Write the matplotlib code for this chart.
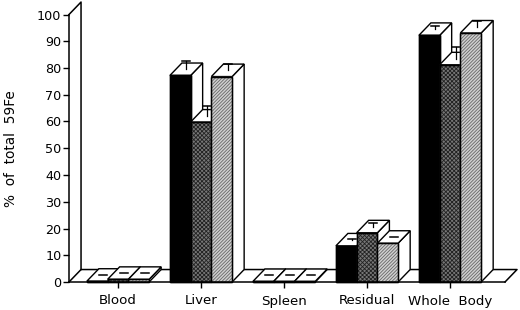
"""Pseudo-3D grouped bar chart of 59Fe distribution."""
import matplotlib
matplotlib.use("Agg")
import matplotlib.pyplot as plt
from matplotlib.patches import Polygon

categories = ["Blood", "Liver", "Spleen", "Residual", "Whole  Body"]
group_positions = [0, 4, 8, 12, 16]

# one list per series
black_values = [0.3, 77.2, 0.2, 13.5, 92.2]
gray_values = [1.0, 59.8, 0.2, 18.4, 81.2]
light_values = [1.0, 76.8, 0.2, 14.5, 93.1]

black_errors = [0.1, 3.0, 0.1, 0.1, 1.2]
gray_errors = [0.1, 3.6, 0.1, 1.2, 4.5]
light_errors = [0.1, 2.5, 0.1, 0.1, 2.0]

y_ticks = list(range(0, 101, 10))

# depth of the fake 3D projection, in data units
DX = 0.58
DY = 4.66

plt.rcParams["font.family"] = "DejaVu Sans"
plt.rcParams["hatch.linewidth"] = 0.6

fig = plt.figure(figsize=(5.2, 3.1), dpi=100)
ax = fig.add_axes([69 / 520, 28 / 310, 436 / 520, 267.5 / 310])
ax.set_xlim(-2.36, 18.65)
ax.set_ylim(0, 100)


def poly(points, z, face="white", hatch=None, edge="black"):
    ax.add_patch(Polygon(points, closed=True, facecolor=face, edgecolor=edge,
                         hatch=hatch, linewidth=1.0, zorder=z, clip_on=False))


def draw_bar(left, value, error, z, face, hatch, edge):
    right = left + 1
    # right side and top face first, front goes over them
    poly([(right, 0), (right + DX, DY), (right + DX, value + DY), (right, value)], z)
    poly([(left, value), (left + DX, value + DY), (right + DX, value + DY), (right, value)], z)
    poly([(left, 0), (right, 0), (right, value), (left, value)], z + 0.1,
         face=face, hatch=hatch, edge=edge)
    # outline again in black, the patch edge takes the hatch colour
    poly([(left, 0), (right, 0), (right, value), (left, value)], z + 0.15, face="none")
    # error bar stands on the middle of the top face
    cx = left + 0.5 + DX / 2
    cy = value + DY / 2
    ax.plot([cx, cx], [cy, cy + error], color="black", lw=0.9, zorder=z + 0.2, clip_on=False)
    ax.plot([cx - 0.2, cx + 0.2], [cy + error, cy + error], color="black", lw=1.1,
            zorder=z + 0.2, clip_on=False)


# back wall and floor
ax.plot([-2.36, -2.36 + DX, -2.36 + DX], [100, 100 + DY, DY], color="black", lw=1.1,
        zorder=1, clip_on=False)
ax.plot([-2.36, -2.36 + DX, 18.65 + DX, 18.65], [0, DY, DY, 0], color="black", lw=1.1,
        zorder=1, clip_on=False)

series = [
    (black_values, black_errors, "black", None, "black"),
    (gray_values, gray_errors, "#777777", "xxxxxxxx", "#222222"),
    (light_values, light_errors, "#d0d0d0", "//////////", "#666666"),
]

z = 2
for g, pos in enumerate(group_positions):
    for s, (values, errors, face, hatch, edge) in enumerate(series):
        draw_bar(pos - 1.5 + s, values[g], errors[g], z, face, hatch, edge)
        z += 1

ax.spines["top"].set_visible(False)
ax.spines["right"].set_visible(False)
ax.spines["left"].set_linewidth(1.1)
ax.spines["bottom"].set_linewidth(1.1)
ax.spines["left"].set_zorder(100)
ax.spines["bottom"].set_zorder(100)

ax.set_yticks(y_ticks)
ax.set_xticks(group_positions)
ax.set_xticklabels(categories, fontsize=9.6)
ax.tick_params(axis="y", length=4, width=1.0, labelsize=9.2, pad=1.5)
ax.tick_params(axis="x", length=4, width=1.0, pad=5)
ax.set_ylabel("%  of  total  59Fe", fontsize=9.8, labelpad=14)

fig.savefig("out.png", dpi=100)
plt.close(fig)
